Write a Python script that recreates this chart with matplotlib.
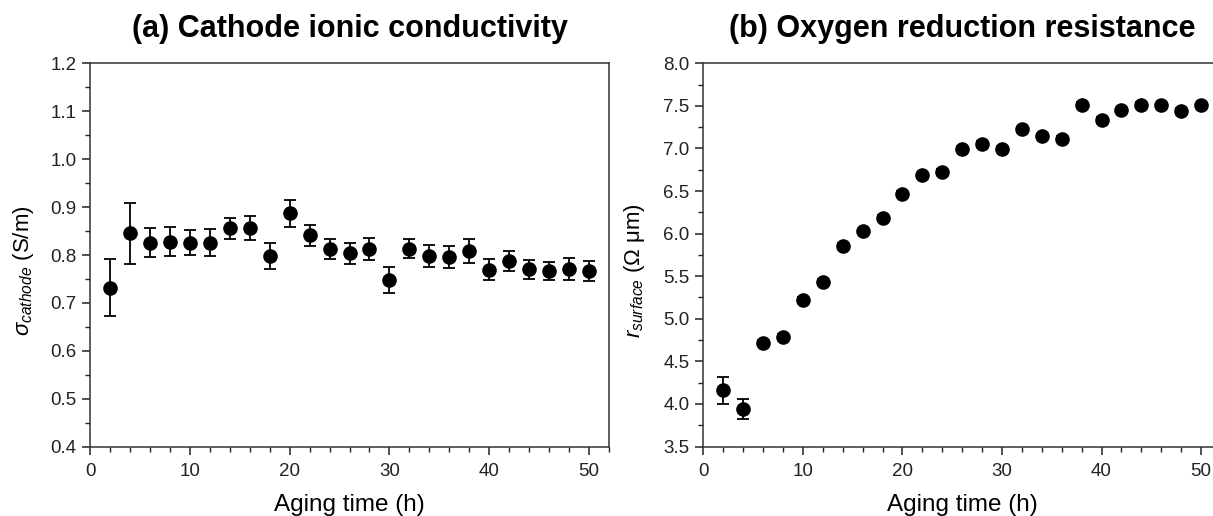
import matplotlib
matplotlib.use("Agg")
import matplotlib.pyplot as plt
from matplotlib.ticker import MultipleLocator

plt.rcParams['font.family'] = ['Liberation Sans', 'DejaVu Sans']
plt.rcParams['mathtext.fontset'] = 'custom'
plt.rcParams['mathtext.rm'] = 'Liberation Sans'
plt.rcParams['mathtext.it'] = 'Liberation Sans:italic'

# ---- data ----
aging_time = [2, 4, 6, 8, 10, 12, 14, 16, 18, 20, 22, 24, 26,
              28, 30, 32, 34, 36, 38, 40, 42, 44, 46, 48, 50]

sigma_cathode = [0.732, 0.845, 0.826, 0.828, 0.826, 0.826, 0.856, 0.856, 0.798,
                 0.887, 0.841, 0.813, 0.804, 0.813, 0.748, 0.813, 0.797, 0.795,
                 0.809, 0.769, 0.787, 0.770, 0.766, 0.771, 0.766]
sigma_err = [0.060, 0.063, 0.030, 0.031, 0.027, 0.029, 0.022, 0.025, 0.028,
             0.028, 0.022, 0.021, 0.022, 0.023, 0.027, 0.020, 0.023, 0.023,
             0.025, 0.022, 0.021, 0.020, 0.019, 0.023, 0.021]

r_surface = [4.160, 3.944, 4.718, 4.788, 5.224, 5.432, 5.856, 6.025, 6.186,
             6.465, 6.685, 6.728, 6.995, 7.054, 6.995, 7.223, 7.144, 7.113,
             7.513, 7.336, 7.446, 7.513, 7.505, 7.442, 7.505]
r_err = [0.157, 0.118, 0.03, 0.03, 0.03, 0.03, 0.03, 0.03, 0.03,
         0.03, 0.03, 0.03, 0.03, 0.03, 0.03, 0.03, 0.03, 0.03,
         0.03, 0.03, 0.03, 0.03, 0.03, 0.03, 0.03]

titles = ['(a) Cathode ionic conductivity', '(b) Oxygen reduction resistance']
ylabels = [r'$\sigma_{cathode}$ (S/m)', r'$r_{surface}$ (Ω μm)']
xlabel = 'Aging time (h)'

W, H = 1213, 516
fig = plt.figure(figsize=(W / 100, H / 100), dpi=100)

def px_axes(x0, x1, y0, y1):
    return fig.add_axes([x0 / W, 1 - y1 / H, (x1 - x0) / W, (y1 - y0) / H])

axL = px_axes(90.3, 608.7, 63.3, 446.7)
axR = px_axes(703.3, 1221.0, 63.3, 446.5)

specs = [
    (axL, sigma_cathode, sigma_err, (0.4, 1.2), 0.1, 0.05, (36 - 90.3) / 518.4),
    (axR, r_surface, r_err, (3.5, 8.0), 0.5, 0.25, (647 - 703.3) / 517.7),
]

for i, (ax, y, e, ylim, maj, mnr, labx) in enumerate(specs):
    ax.errorbar(aging_time, y, yerr=e, fmt='o', color='black', ms=9.5,
                mec='black', mfc='black', ecolor='black', elinewidth=1.3,
                capsize=4, capthick=1.3, zorder=3)
    ax.set_xlim(0, 52)
    ax.set_ylim(*ylim)
    ax.xaxis.set_major_locator(MultipleLocator(10))
    ax.xaxis.set_minor_locator(MultipleLocator(2))
    ax.yaxis.set_major_locator(MultipleLocator(maj))
    ax.yaxis.set_minor_locator(MultipleLocator(mnr))
    ax.yaxis.set_major_formatter(matplotlib.ticker.FormatStrFormatter('%.1f'))
    ax.tick_params(which='major', direction='out', length=6, width=1.1,
                   labelsize=13.5, colors='#222222', pad=4)
    ax.tick_params(which='minor', direction='out', length=3.5, width=1.0,
                   colors='#222222')
    ax.tick_params(axis='x', which='major', pad=6)
    for s in ax.spines.values():
        s.set_linewidth(1.1)
        s.set_color('#333333')
    ax.set_title(titles[i], fontsize=22, fontweight='bold', pad=19)
    ax.set_xlabel(xlabel, fontsize=17.5, labelpad=10)
    ax.set_ylabel(ylabels[i], fontsize=16)
    ax.yaxis.set_label_coords(labx, 0.46)

fig.savefig('out.png', dpi=100)
